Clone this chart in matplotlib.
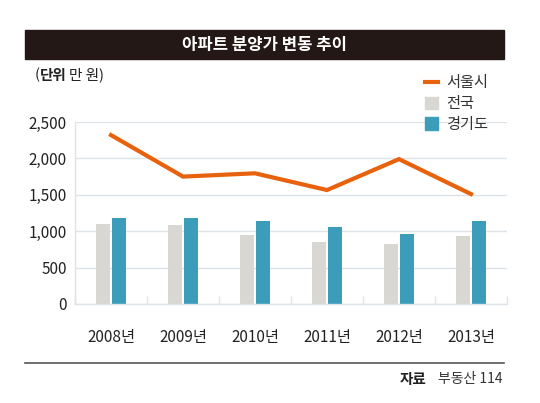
import matplotlib

matplotlib.use("Agg")
from matplotlib import pyplot as plt  # noqa: E402
from matplotlib.lines import Line2D  # noqa: E402
from matplotlib.patches import Patch, Rectangle  # noqa: E402
import numpy as np  # noqa: E402

years = ["2008년", "2009년", "2010년", "2011년", "2012년", "2013년"]
seoul = [2320, 1750, 1795, 1565, 1990, 1510]
nationwide = [1100, 1080, 950, 855, 820, 930]
gyeonggi = [1185, 1185, 1145, 1058, 962, 1140]
y_ticks = [0, 500, 1000, 1500, 2000, 2500]

KR = ["Noto Sans CJK KR", "DejaVu Sans"]
plt.rcParams["font.family"] = KR

ORANGE = "#e8610c"
GRAY = "#d8d7d2"
TEAL = "#3b9db9"
GRID = "#dde3e6"

fig = plt.figure(figsize=(5.4, 4.03), dpi=100)
ax = fig.add_axes([0.1389, 0.2457, 0.8, 0.4516])

x = np.arange(len(years))
width = 0.195
ax.bar(x - 0.114, nationwide, width, color=GRAY, zorder=2)
ax.bar(x + 0.114, gyeonggi, width, color=TEAL, zorder=2)
ax.plot(x, seoul, color=ORANGE, lw=3, solid_joinstyle="miter", zorder=3, clip_on=False)

ax.set_xlim(-0.5, len(years) - 0.5)
ax.set_ylim(0, 2500)
ax.set_yticks(y_ticks)
ax.set_yticklabels([f"{v:,}" for v in y_ticks], fontsize=11, color="#222")
ax.set_xticks(x)
ax.set_xticklabels(years, fontsize=11, color="#222")
ax.set_xticks(np.arange(-0.5, len(years)), minor=True)
ax.tick_params(axis="x", which="major", length=0, pad=18)
ax.tick_params(axis="x", which="minor", direction="in", length=6, color=GRID, width=1)
ax.tick_params(axis="y", length=0, pad=6)
ax.grid(axis="y", color=GRID, lw=1, zorder=0)
for side in ("top", "right"):
    ax.spines[side].set_visible(False)
for side in ("left", "bottom"):
    ax.spines[side].set_color(GRID)
    ax.spines[side].set_linewidth(1)

# title bar
fig.patches.append(Rectangle((0.0463, 0.8536), 0.887, 0.072, transform=fig.transFigure,
                             color="#231815", zorder=0))
fig.text(0.49, 0.889, "아파트 분양가 변동 추이", color="white", fontsize=12,
         fontweight="bold", ha="center", va="center")

# unit label
fig.text(0.064, 0.814, "(", fontsize=10.5, color="#222", va="center")
fig.text(0.073, 0.814, "단위", fontsize=10.5, color="#222", fontweight="bold", va="center")
fig.text(0.127, 0.814, "만 원)", fontsize=10.5, color="#222", va="center")

handles = [
    Line2D([], [], color=ORANGE, lw=3),
    Patch(color=GRAY),
    Patch(color=TEAL),
]
fig.legend(handles, ["서울시", "전국", "경기도"], loc="upper left",
           bbox_to_anchor=(0.762, 0.85), frameon=False, fontsize=11,
           handlelength=0.85, handleheight=0.85, handletextpad=0.5,
           labelspacing=0.25, labelcolor="#333")

# footer
fig.add_artist(Line2D([0.0463, 0.9333], [0.0993, 0.0993], transform=fig.transFigure,
                      color="#555", lw=1.2))
fig.text(0.79, 0.059, "자료", fontsize=10.5, fontweight="bold", color="#222",
         ha="right", va="center")
fig.text(0.93, 0.059, "부동산 114", fontsize=10, color="#333", ha="right", va="center")

fig.savefig("out.png", dpi=100)
